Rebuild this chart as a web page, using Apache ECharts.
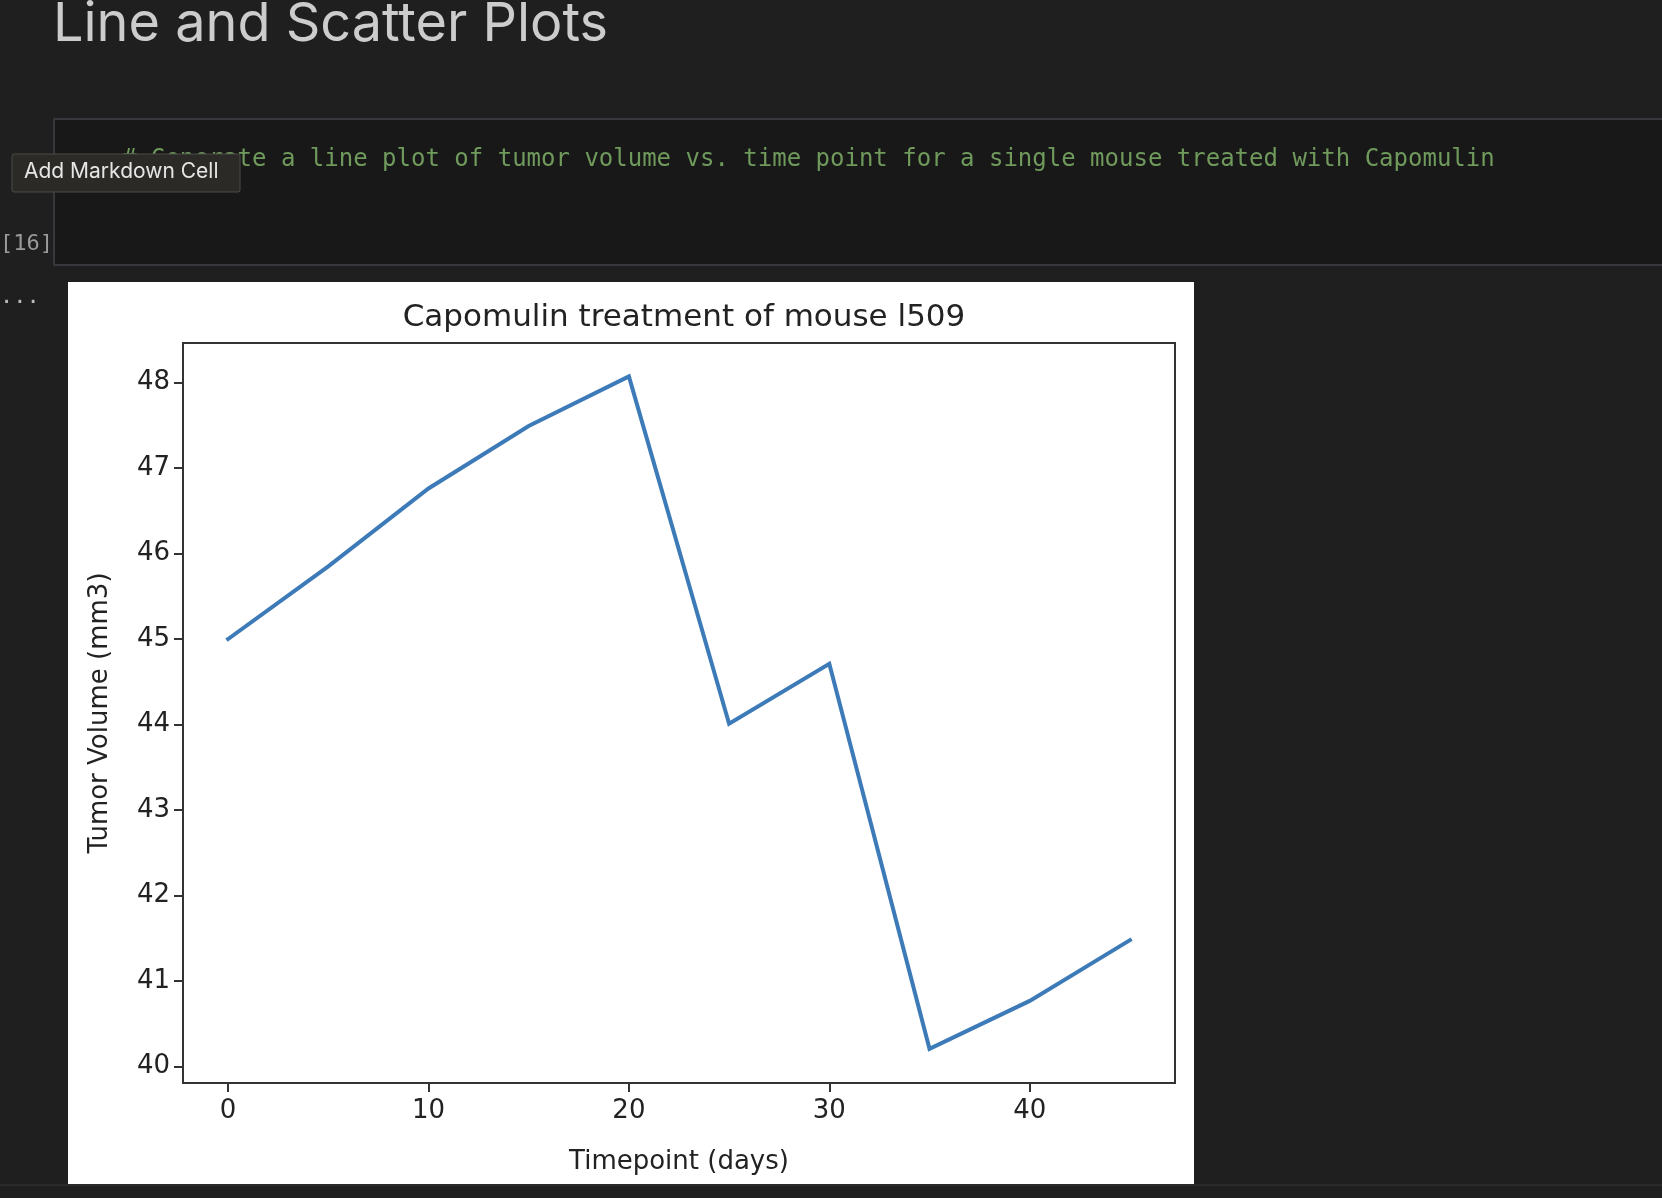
<!DOCTYPE html>
<html>
<head>
<meta charset="utf-8">
<style>html,body{margin:0;padding:0;background:#1f1f1f;overflow:hidden}#c{width:1662px;height:1198px}</style>
<script src="https://cdn.jsdelivr.net/npm/echarts@6/dist/echarts.min.js"></script>
</head>
<body>
<div id="c"></div>
<script>
const timepoints = [0, 5, 10, 15, 20, 25, 30, 35, 40, 45];
const tumorVolume = [45.0, 45.85, 46.76, 47.49, 48.07, 44.01, 44.71, 40.21, 40.77, 41.48];
const xTicks = [0, 10, 20, 30, 40];
const yTicks = [40, 41, 42, 43, 44, 45, 46, 47, 48];
const chartTitle = 'Capomulin treatment of mouse l509';
const xName = 'Timepoint (days)';
const yName = 'Tumor Volume (mm3)';
const heading = 'Line and Scatter Plots';
const codeComment = '# Generate a line plot of tumor volume vs. time point for a single mouse treated with Capomulin';
const tooltipText = 'Add Markdown Cell';
const execCount = '[16]';

const MPL = '"DejaVu Sans"';
const INK = '#222222';
const chart = echarts.init(document.getElementById('c'));
chart.setOption({
  animation: false,
  backgroundColor: '#1f1f1f',
  title: {
    text: chartTitle, left: 679, top: 297, textAlign: 'center',
    textStyle: { fontFamily: MPL, fontSize: 31, fontWeight: 'normal', color: INK }
  },
  grid: { left: 183, top: 343, width: 992, height: 740, show: true, backgroundColor: '#fff', borderColor: '#333', borderWidth: 2, containLabel: false },
  xAxis: {
    type: 'value', min: -2.25, max: 47.25, name: xName, nameLocation: 'middle', nameGap: 66,
    nameTextStyle: { fontFamily: MPL, fontSize: 26, color: INK },
    splitLine: { show: false },
    axisLine: { show: true, onZero: false, lineStyle: { color: '#333', width: 2 } },
    axisTick: { show: true, length: 9, customValues: xTicks, lineStyle: { color: '#333', width: 2 } },
    axisLabel: { customValues: xTicks, margin: 15, fontFamily: MPL, fontSize: 26, color: INK }
  },
  yAxis: {
    type: 'value', min: 39.81, max: 48.46, name: yName, nameLocation: 'middle', nameGap: 70,
    nameTextStyle: { fontFamily: MPL, fontSize: 26, color: INK },
    splitLine: { show: false },
    axisLine: { show: true, onZero: false, lineStyle: { color: '#333', width: 2 } },
    axisTick: { show: true, length: 9, customValues: yTicks, lineStyle: { color: '#333', width: 2 } },
    axisLabel: { customValues: yTicks, margin: 13, fontFamily: MPL, fontSize: 26, color: INK }
  },
  series: [{
    type: 'line', data: timepoints.map((t, i) => [t, tumorVolume[i]]),
    showSymbol: false, symbol: 'none', smooth: false,
    lineStyle: { color: '#3d7ab8', width: 4, cap: 'square', join: 'miter' }, z: 5
  }],
  graphic: [
    { type: 'rect', z: -10, silent: true, shape: { x: 68, y: 282, width: 1126, height: 902 }, style: { fill: '#ffffff' } },
    { type: 'rect', z: -10, silent: true, shape: { x: 0, y: 1184, width: 1662, height: 2 }, style: { fill: '#2a2a2a' } },
    { type: 'rect', z: -10, silent: true, shape: { x: 54, y: 119, width: 1640, height: 146 }, style: { fill: '#181818', stroke: '#38383c', lineWidth: 2 } },
    { type: 'text', z: 10, silent: true, x: 53, y: 52, style: { text: heading, textVerticalAlign: 'bottom', font: '54px "Inter","Liberation Sans"', fill: '#cccccc' } },
    { type: 'text', z: 10, silent: true, x: 122, y: 160, style: { text: codeComment, textVerticalAlign: 'middle', font: '24px "DejaVu Sans Mono"', fill: '#6f9a5c' } },
    { type: 'rect', z: 11, silent: true, shape: { x: 12, y: 154, width: 228, height: 38, r: 2 }, style: { fill: '#2b2a26', stroke: '#4a4a46', lineWidth: 1 } },
    { type: 'text', z: 12, silent: true, x: 24, y: 172, style: { text: tooltipText, textVerticalAlign: 'middle', font: '21px "Inter","Liberation Sans"', fill: '#e6e6e6' } },
    { type: 'text', z: 10, silent: true, x: 0, y: 244, style: { text: execCount, textVerticalAlign: 'middle', font: '22px "DejaVu Sans Mono"', fill: '#9a9a9a' } },
    { type: 'text', z: 10, silent: true, x: 0, y: 297, style: { text: '...', textVerticalAlign: 'middle', font: '22px "DejaVu Sans Mono"', fill: '#bbbbbb' } }
  ]
});
</script>
</body>
</html>
